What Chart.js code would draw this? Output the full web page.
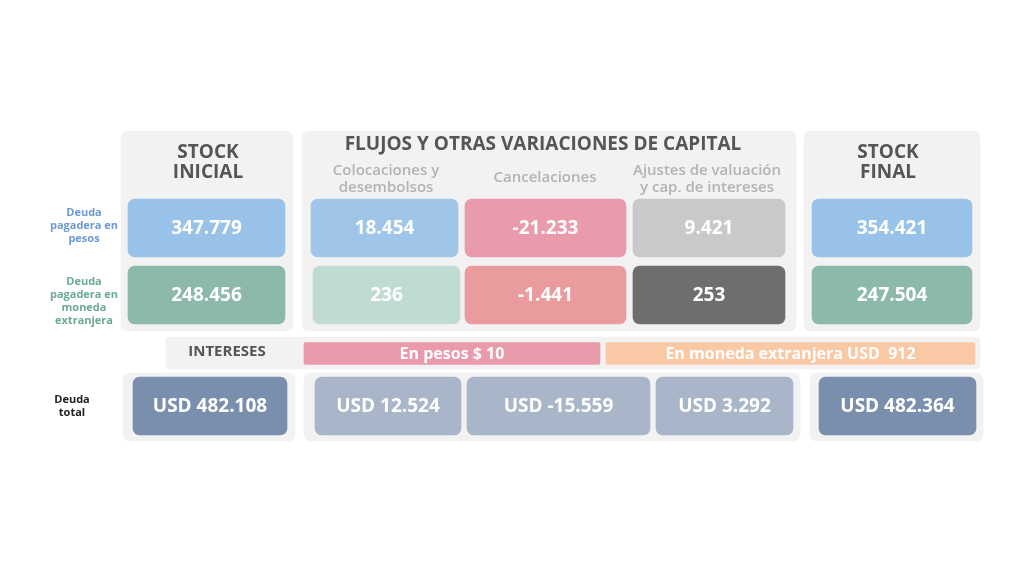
<!DOCTYPE html>
<html><head><meta charset="utf-8">
<script src="https://cdn.jsdelivr.net/npm/chart.js@4"></script>
<style>html,body{margin:0;background:#fff}#wrap{width:1024px;height:576px}</style>
</head><body><div id="wrap"><canvas id="c"></canvas></div>
<script>
// Table content
const columns = ['STOCK\nINICIAL', 'Colocaciones y\ndesembolsos', 'Cancelaciones', 'Ajustes de valuación\ny cap. de intereses', 'STOCK\nFINAL'];
const rowLabels = ['Deuda\npagadera en\npesos', 'Deuda\npagadera en\nmoneda\nextranjera', 'Deuda\ntotal'];
const pesosValues = ['347.779', '18.454', '-21.233', '9.421', '354.421'];
const extranjeraValues = ['248.456', '236', '-1.441', '253', '247.504'];
const totalValues = ['USD 482.108', 'USD 12.524', 'USD -15.559', 'USD 3.292', 'USD 482.364'];
const interesesLabels = ['En pesos $ 10', 'En moneda extranjera USD  912'];
const flujosTitle = 'FLUJOS Y OTRAS VARIACIONES DE CAPITAL';

// layout grid (canvas units)
const pesosCols = [[128,285],[311,458],[465,626],[633,785],[812,972]];
const extCols = [[128,285],[313,460],[465,626],[633,785],[812,972]];
const totalCols = [[133,287],[315,461],[467,650],[656,793],[819,976]];
const rowY = {pesos:228, ext:295, total:406, intereses:353.5};

const cell = (cols, y) => cols.map(c => ({x:c, y:y}));
const datasets = [
  {labels:[], data:[{x:[121,293],y:231},{x:[302,796],y:231},{x:[804,980],y:231}], backgroundColor:'#f2f2f2', barThickness:200, order:2},
  {labels:[], data:[{x:[166,980],y:353}], backgroundColor:'#f2f2f2', barThickness:32, borderRadius:3, order:2},
  {labels:[], data:[{x:[123,295],y:407},{x:[304,800],y:407},{x:[810,983],y:407}], backgroundColor:'#f2f2f2', barThickness:68, order:2},
  {labels:pesosValues, data:cell(pesosCols,rowY.pesos), backgroundColor:['#98c2e8','#9fc6e8','#e99aab','#c9c9c9','#98c2e8'], barThickness:58},
  {labels:extranjeraValues, data:cell(extCols,rowY.ext), backgroundColor:['#8cb9aa','#c0dbd4','#e99b9d','#6e6e6e','#8cb9aa'], barThickness:58},
  {labels:totalValues, data:cell(totalCols,rowY.total), backgroundColor:['#7a8fae','#a9b5c9','#a9b5c9','#a9b5c9','#7a8fae'], barThickness:58},
  {labels:interesesLabels, data:[{x:[304,600],y:rowY.intereses},{x:[606,975],y:rowY.intereses}], backgroundColor:['#e99aab','#f9c9a6'], barThickness:22, borderRadius:2, fontSize:16}
].map(d => Object.assign({grouped:false, order:1, borderRadius:d.borderRadius ?? 7, borderSkipped:false}, d));

const textPlugin = {
  id:'texts',
  afterDatasetsDraw(chart){
    const ctx = chart.ctx, xs = chart.scales.x, ys = chart.scales.y;
    ctx.save();
    ctx.textAlign = 'center'; ctx.textBaseline = 'middle';
    chart.data.datasets.forEach((ds, i) => {
      chart.getDatasetMeta(i).data.forEach((el, j) => {
        if (!ds.labels[j]) return;
        const p = el.getProps(['x','base','y']);
        ctx.fillStyle = '#fff';
        ctx.font = 'bold ' + (ds.fontSize || 19) + 'px "Open Sans", sans-serif';
        ctx.fillText(ds.labels[j], (p.x + p.base) / 2, p.y + 1);
      });
    });
    const lines = (txt, x, y, lh, font, color) => {
      ctx.font = font; ctx.fillStyle = color;
      const ls = txt.split('\n');
      ls.forEach((l, k) => ctx.fillText(l, xs.getPixelForValue(x), ys.getPixelForValue(y + (k - (ls.length-1)/2) * lh)));
    };
    const hx = [208, 386, 545, 707, 888];
    lines(columns[0], hx[0], 163, 20, 'bold 19px "Open Sans", sans-serif', '#555');
    lines(columns[4], hx[4], 163, 20, 'bold 19px "Open Sans", sans-serif', '#555');
    [1,2,3].forEach(k => lines(columns[k], hx[k], k===2 ? 178 : 179, 17, '600 15px "Open Sans", sans-serif', '#b3b3b3'));
    lines(flujosTitle, 543, 145, 20, 'bold 19px "Open Sans", sans-serif', '#555');
    lines('INTERESES', 227, 352, 20, 'bold 15px "Open Sans", sans-serif', '#555');
    lines(rowLabels[0], 84, 226, 13, 'bold 11px "Open Sans", sans-serif', '#6b9bd1');
    lines(rowLabels[1], 84, 301, 13, 'bold 11px "Open Sans", sans-serif', '#6aaa98');
    lines(rowLabels[2], 72, 406, 13, 'bold 11px "Open Sans", sans-serif', '#222');
    ctx.restore();
  }
};

new Chart(document.getElementById('c'), {
  type:'bar',
  data:{datasets},
  options:{
    indexAxis:'y', responsive:true, maintainAspectRatio:false, animation:false,
    layout:{padding:0},
    plugins:{legend:{display:false}, tooltip:{enabled:false}},
    scales:{
      x:{type:'linear', min:0, max:1024, display:false, offset:false},
      y:{type:'linear', min:0, max:576, reverse:true, display:false, offset:false}
    }
  },
  plugins:[textPlugin]
});
</script></body></html>
